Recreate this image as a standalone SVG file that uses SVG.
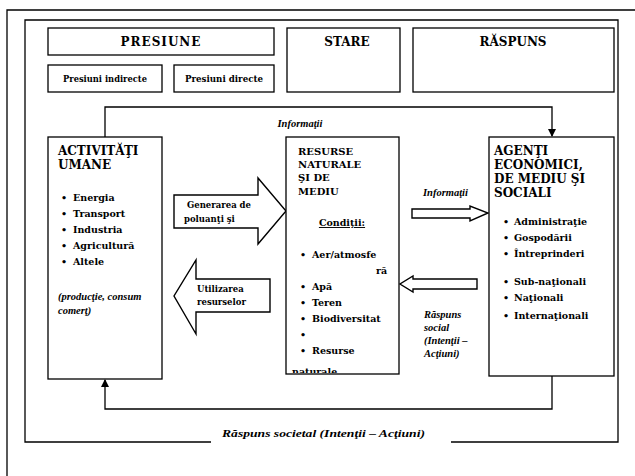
<svg xmlns="http://www.w3.org/2000/svg" width="635" height="476" viewBox="0 0 635 476">
<defs>
<style>
.box{fill:#fff;stroke:#000;stroke-width:1.3}
.ln{fill:none;stroke:#000;stroke-width:1.3}
.ha{fill:#fff;stroke:#000;stroke-width:1.4;stroke-linejoin:miter}
.t{font-family:"DejaVu Serif","Liberation Serif",serif;font-weight:bold;fill:#000}
.h{font-size:12px}
.hs{font-size:10px}
.b{font-size:9.5px}
.i{font-family:"Liberation Serif","DejaVu Serif",serif;font-style:italic;font-weight:bold;font-size:10.5px;fill:#000}
</style>
<marker id="ah" markerWidth="8" markerHeight="8" refX="7" refY="4" orient="auto" markerUnits="userSpaceOnUse">
<path d="M0,0 L8,4 L0,8 Z" fill="#000"/>
</marker>
<clipPath id="rc"><rect x="286" y="137" width="113" height="236"/></clipPath>
</defs>
<rect width="635" height="476" fill="#fff"/>
<path class="ln" d="M7,476 V10 H635" stroke-width="2"/>
<path class="ln" d="M211,442 H25 V20 H618 V442 H451"/>
<g id="presiune"><rect class="box" x="48" y="28" width="226" height="27"/><text class="t h" x="161" y="46" text-anchor="middle" letter-spacing="1">PRESIUNE</text></g>
<g id="presiuni-indirecte"><rect class="box" x="48" y="65" width="114" height="27"/><text class="t" font-size="8.5" x="105" y="82" text-anchor="middle" textLength="84" lengthAdjust="spacingAndGlyphs">Presiuni indirecte</text></g>
<g id="presiuni-directe"><rect class="box" x="174" y="65" width="100" height="27"/><text class="t" font-size="8.5" x="224" y="82" text-anchor="middle" textLength="78" lengthAdjust="spacingAndGlyphs">Presiuni directe</text></g>
<g id="stare"><rect class="box" x="287" y="28" width="113" height="64"/><text class="t h" x="347" y="46" text-anchor="middle">STARE</text></g>
<g id="raspuns"><rect class="box" x="413" y="28" width="201" height="64"/><text class="t h" x="513" y="46" text-anchor="middle">RĂSPUNS</text></g>
<g id="connectors">
<path class="ln" d="M105,137 V107 H552 V136" marker-end="url(#ah)"/>
<path class="ln" d="M552,376 V409 H105 V380" marker-end="url(#ah)"/>
<text class="i" x="300" y="127" text-anchor="middle">Informaţii</text>
<path class="ha" d="M174,195 H258 V178 L286,211 L258,244 V228 H174 Z"/>
<text class="t" font-size="8.5" x="187" y="208">Generarea de</text>
<text class="t" font-size="8.5" x="184" y="222">poluanţi şi</text>
<path class="ha" d="M270,279 H196 V260 L174,296 L196,334 V312 H270 Z"/>
<text class="t" font-size="8.5" x="197" y="292">Utilizarea</text>
<text class="t" font-size="8.5" x="197" y="305">resurselor</text>
<text class="i" x="423" y="196">Informaţii</text>
<path class="ha" d="M412,209 H470 V206 L488,213 L470,221 V218 H412 Z"/>
<path class="ha" d="M477,279 H413 V276 L400,284 L413,292 V289 H477 Z"/>
<text class="i" x="424" y="318">Răspuns</text>
<text class="i" x="424" y="331">social</text>
<text class="i" x="424" y="344">(Intenţii –</text>
<text class="i" x="424" y="357">Acţiuni)</text>
<text class="i" font-size="11" x="222" y="437" textLength="203" lengthAdjust="spacingAndGlyphs">Răspuns societal (Intenţii – Acţiuni)</text>
</g>
<g id="activitati">
<rect class="box" x="48" y="137" width="114" height="242"/>
<text class="t h" x="58" y="155">ACTIVITĂŢI</text>
<text class="t h" x="58" y="169">UMANE</text>
<g class="t b">
<text x="61" y="201">•</text><text x="73" y="201">Energia</text>
<text x="61" y="217">•</text><text x="73" y="217">Transport</text>
<text x="61" y="233">•</text><text x="73" y="233">Industria</text>
<text x="61" y="249">•</text><text x="73" y="249">Agricultură</text>
<text x="61" y="265">•</text><text x="73" y="265">Altele</text>
</g>
<text class="i" x="58" y="300">(producţie, consum</text>
<text class="i" x="58" y="314">comerţ)</text>
</g>
<g id="resurse">
<rect class="box" x="286" y="137" width="113" height="237"/>
<g clip-path="url(#rc)">
<text class="t hs" x="298" y="155">RESURSE</text>
<text class="t hs" x="298" y="168">NATURALE</text>
<text class="t hs" x="298" y="181">ŞI DE</text>
<text class="t hs" x="298" y="195">MEDIU</text>
<text class="t b" x="342" y="226" text-anchor="middle" text-decoration="underline">Condiţii:</text>
<g class="t b">
<text x="300" y="258">•</text><text x="312" y="258">Aer/atmosfe</text>
<text x="376" y="274">ră</text>
<text x="300" y="290">•</text><text x="312" y="290">Apă</text>
<text x="300" y="306">•</text><text x="312" y="306">Teren</text>
<text x="300" y="322">•</text><text x="312" y="322">Biodiversitat</text>
<text x="300" y="338">•</text>
<text x="300" y="354">•</text><text x="312" y="354">Resurse</text>
<text x="292" y="375">naturale</text>
</g>
</g>
</g>
<g id="agenti">
<rect class="box" x="489" y="137" width="125" height="239"/>
<text class="t h" x="494" y="155">AGENŢI</text>
<text class="t h" x="494" y="169">ECONOMICI,</text>
<text class="t h" x="494" y="183">DE MEDIU ŞI</text>
<text class="t h" x="494" y="197">SOCIALI</text>
<g class="t b">
<text x="503" y="225">•</text><text x="514" y="225">Administraţie</text>
<text x="503" y="241">•</text><text x="514" y="241">Gospodării</text>
<text x="503" y="257">•</text><text x="514" y="257">Întreprinderi</text>
<text x="503" y="285">•</text><text x="514" y="285">Sub-naţionali</text>
<text x="503" y="301">•</text><text x="514" y="301">Naţionali</text>
<text x="503" y="319">•</text><text x="514" y="319">Internaţionali</text>
</g>
</g>
</svg>
